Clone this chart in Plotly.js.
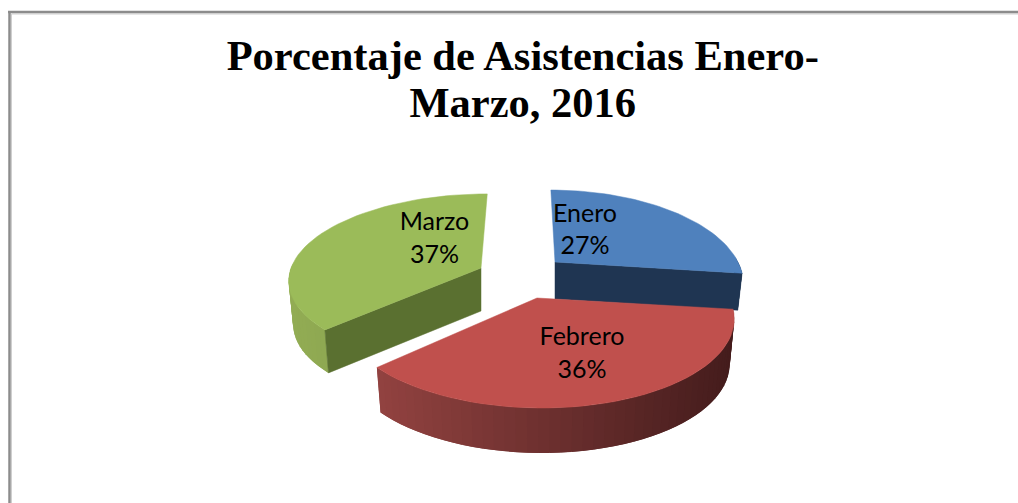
<!DOCTYPE html>
<html><head><meta charset="utf-8">
<script src="https://cdn.plot.ly/plotly-3.0.1.min.js"></script>
<style>html,body{margin:0;padding:0;background:#fff}</style></head>
<body><div id="chart" style="width:1018px;height:503px"></div>
<script>
const categories = ["Enero", "Febrero", "Marzo"];
const percentages = [27, 36, 37];
const chartTitle = "Porcentaje de Asistencias Enero-<br>Marzo, 2016";

const topColors = ["#4f81bd", "#c0504d", "#9bbb59"];
const cutColors = ["#1f3552", "#7a3230", "#5a7030"];
const wallLeft  = [[31,53,82],[146,66,64],[146,172,84]];
const wallRight = [[31,53,82],[68,28,28],[128,154,70]];
const view = [
  {cx:555, cy:262, a:183, b:87, k:0.209, d:37, sx:5,  lx:585, ly:231.5},
  {cx:537, cy:298, a:192, b:87, k:0.209, d:45, sx:4,  lx:582, ly:355},
  {cx:481, cy:268, a:190, b:83, k:0.12,  d:43, sx:-7, lx:434.5, ly:240}
];
const bottomShrink = 0.977;
function project(v, turn){
  const th = 2*Math.PI*turn, X = Math.sin(th), Y = -Math.cos(th), s = 1/(1 - v.k*Y);
  return [v.cx + (v.a*X + v.sx*Y)*s, v.cy + v.b*Y*s];
}
function below(v, p){ return [v.cx + (p[0]-v.cx)*bottomShrink, p[1]+v.d]; }
function mix(a,b,t){return 'rgb('+a.map((c,i)=>Math.round(c+(b[i]-c)*t)).join(',')+')';}
function poly(pts,color,w){
  return {type:'scatter',mode:'lines',x:pts.map(p=>p[0]),y:pts.map(p=>p[1]),fill:'toself',fillcolor:color,
    line:{color:color,width:w===undefined?0.5:w},hoverinfo:'skip',showlegend:false};
}
const traces = [];
let cum = 0;
const ranges = percentages.map(p => { const r=[cum/100,(cum+p)/100]; cum+=p; return r; });
function addSlice(i){
  const v = view[i], [t0,t1] = ranges[i], n = 48;
  const rim = [];
  for(let j=0;j<=n;j++) rim.push(project(v,t0+(t1-t0)*j/n));
  const apex = [v.cx,v.cy];
  const mn=Math.min(...rim.map(r=>r[0])), mx=Math.max(...rim.map(r=>r[0]));
  // outer wall, painted strip over strip so no seams show between them
  const order=[...Array(n).keys()];
  if(i===2) order.reverse();
  order.forEach(j=>{
    const tm = t0+(t1-t0)*(j+.5)/n;
    if(Math.cos(2*Math.PI*tm) > 0.05) return;
    const a = i===2 ? Math.max(0,j-1) : j, b = i===2 ? j+1 : Math.min(n,j+2);
    const seg = rim.slice(a,b+1);
    const pts = seg.concat(seg.slice().reverse().map(p=>below(v,p)));
    pts.push(seg[0]);
    const t=((rim[j][0]+rim[j+1][0])/2-mn)/(mx-mn);
    traces.push(poly(pts,mix(wallLeft[i],wallRight[i],t),0));
  });
  // cut faces visible from the front
  if(i===0){ const e=rim[n]; traces.push(poly([apex,e,below(v,e),below(v,apex),apex],cutColors[0])); }
  if(i===2){ const e=rim[0]; traces.push(poly([apex,e,below(v,e),below(v,apex),apex],cutColors[2])); }
  traces.push(poly([apex,...rim,apex],topColors[i]));
}
[2,0,1].forEach(addSlice);
traces.push({type:'scatter',mode:'text',
  x:view.map(v=>v.lx), y:view.map(v=>v.ly),
  text:categories.map((c,i)=>c+'<br>'+percentages[i]+'%'),
  textposition:'middle center',
  textfont:{family:'Lato, Carlito, sans-serif',size:25,color:'#000'},
  hoverinfo:'skip',showlegend:false});

const frame = (x0,y0,x1,y1,color,width)=>({type:'line',xref:'x',yref:'y',x0,y0,x1,y1,line:{color,width},layer:'below'});
const layout = {
  width:1018,height:503,margin:{l:0,r:0,t:0,b:0},
  paper_bgcolor:'#fff',plot_bgcolor:'#fff',showlegend:false,
  title:{text:chartTitle,x:0.5135,xanchor:'center',y:0.861,yanchor:'middle',
    font:{family:'"Liberation Serif", serif',size:42.5,color:'#000',weight:700}},
  xaxis:{range:[0,1018],visible:false,fixedrange:true},
  yaxis:{range:[503,0],visible:false,fixedrange:true},
  shapes:[
    frame(11.5,14,1018,14,'#cfcfcf',1), frame(11.5,14,11.5,503,'#cfcfcf',1),
    frame(8,12,1018,12,'#8c8c8c',2.5), frame(9.5,12,9.5,503,'#8c8c8c',2.5)
  ]
};
Plotly.newPlot('chart',traces,layout,{displayModeBar:false,staticPlot:true}).then(()=>{
  document.querySelectorAll('.gtitle tspan.line').forEach((t,i)=>{ if(i>0) t.setAttribute('dy','1.11em'); });
});
</script></body></html>
